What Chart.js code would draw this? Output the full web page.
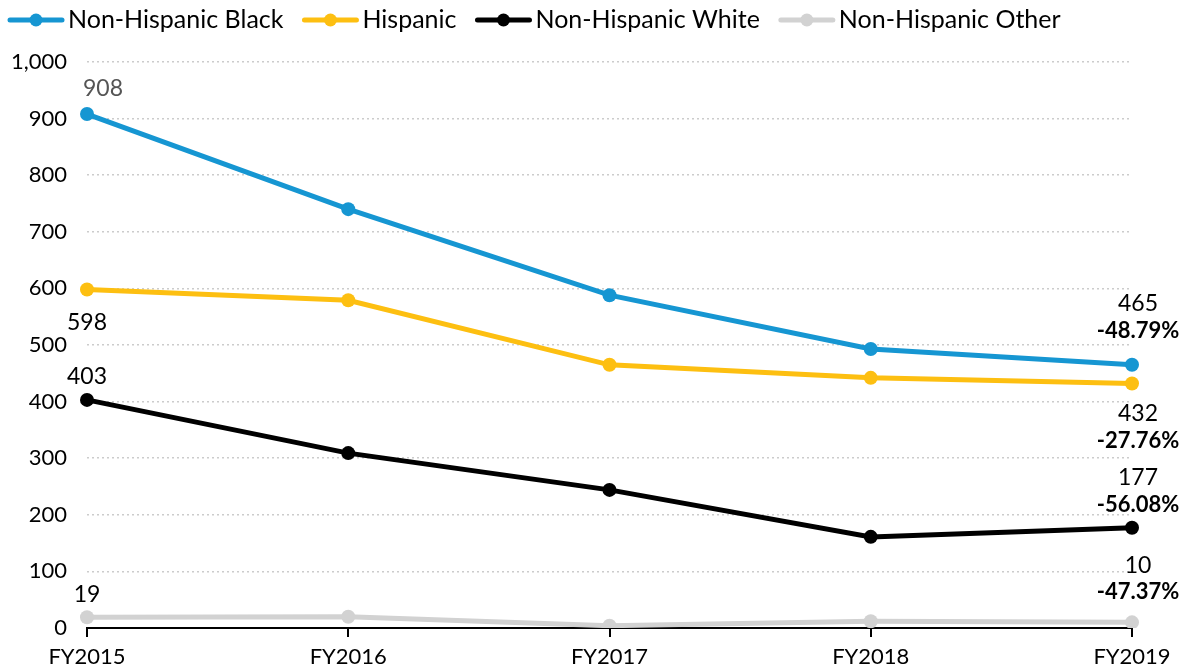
<!DOCTYPE html>
<html>
<head>
<meta charset="utf-8">
<script src="https://cdn.jsdelivr.net/npm/chart.js@4.4.1/dist/chart.umd.min.js"></script>
<style>
  html, body { margin: 0; padding: 0; background: #fff; }
  #wrap { width: 1188px; height: 672px; position: relative; }
</style>
</head>
<body>
<div id="wrap"><canvas id="chart"></canvas></div>
<script>
const years = ['FY2015', 'FY2016', 'FY2017', 'FY2018', 'FY2019'];
const nhBlack = [908, 740, 588, 493, 465];
const hispanic = [598, 579, 465, 442, 432];
const nhWhite = [403, 309, 244, 161, 177];
const nhOther = [19, 20, 4, 12, 10];
const yTicks = [0, 100, 200, 300, 400, 500, 600, 700, 800, 900, 1000];

const FONT = 'Lato, "Noto Sans", sans-serif';

// first/last point label placement, relative to the point
const endLabels = [
    { first: { dx: 16, dy: -25, color: '#555' }, last: { dx: 6, dy: -61, pctDy: -34 } },
    { first: { dx: 0, dy: 33, color: '#000' }, last: { dx: 6, dy: 30, pctDy: 57 } },
    { first: { dx: 0, dy: -23, color: '#000' }, last: { dx: 6, dy: -50, pctDy: -23 } },
    { first: { dx: 0, dy: -23, color: '#000' }, last: { dx: 6, dy: -57, pctDy: -30 } },
];

const series = [
    { label: 'Non-Hispanic Black', data: nhBlack, color: '#1696d2' },
    { label: 'Hispanic', data: hispanic, color: '#fdbf11' },
    { label: 'Non-Hispanic White', data: nhWhite, color: '#000000' },
    { label: 'Non-Hispanic Other', data: nhOther, color: '#d2d2d2' },
];

const legendLine = {
    id: 'legendLine',
    afterDraw(chart) {
        const ctx = chart.ctx;
        ctx.save();
        ctx.font = '25px ' + FONT;
        ctx.textBaseline = 'middle';
        let x = 8;
        const y = 20;
        series.forEach((s) => {
            ctx.strokeStyle = s.color;
            ctx.lineWidth = 5;
            ctx.lineCap = 'round';
            ctx.beginPath();
            ctx.moveTo(x + 2, y);
            ctx.lineTo(x + 54, y);
            ctx.stroke();
            ctx.fillStyle = s.color;
            ctx.beginPath();
            ctx.arc(x + 28, y, 6.5, 0, Math.PI * 2);
            ctx.fill();
            ctx.fillStyle = '#000';
            ctx.textAlign = 'left';
            ctx.fillText(s.label, x + 60, y);
            x += 60 + ctx.measureText(s.label).width + 19;
        });
        ctx.restore();
    },
};

const pointLabels = {
    id: 'pointLabels',
    afterDatasetsDraw(chart) {
        const ctx = chart.ctx;
        ctx.save();
        ctx.textAlign = 'center';
        ctx.textBaseline = 'middle';
        chart.data.datasets.forEach((ds, i) => {
            const pts = chart.getDatasetMeta(i).data;
            const cfg = endLabels[i];
            const first = ds.data[0];
            const last = ds.data[ds.data.length - 1];
            const p0 = pts[0];
            const p1 = pts[pts.length - 1];

            ctx.font = '23px ' + FONT;
            ctx.fillStyle = cfg.first.color;
            ctx.fillText(String(first), p0.x + cfg.first.dx, p0.y + cfg.first.dy);

            ctx.fillStyle = '#000';
            ctx.fillText(String(last), p1.x + cfg.last.dx, p1.y + cfg.last.dy);
            const pct = ((last - first) / first * 100).toFixed(2) + '%';
            ctx.font = 'bold 22px ' + FONT;
            ctx.fillText(pct, p1.x + cfg.last.dx, p1.y + cfg.last.pctDy);
        });
        ctx.restore();
    },
};

new Chart(document.getElementById('chart'), {
    type: 'line',
    data: {
        labels: years,
        datasets: series.map((s) => ({
            label: s.label,
            data: s.data,
            borderColor: s.color,
            backgroundColor: s.color,
            borderWidth: 5,
            pointRadius: 7,
            pointHoverRadius: 7,
            pointBorderWidth: 0,
            tension: 0,
        })),
    },
    options: {
        responsive: true,
        maintainAspectRatio: false,
        animation: false,
        layout: { padding: { top: 62, left: 10, right: 56, bottom: 0 } },
        plugins: {
            legend: { display: false },
            tooltip: { enabled: false },
        },
        scales: {
            x: {
                offset: false,
                grid: {
                    drawOnChartArea: false,
                    drawTicks: true,
                    tickLength: 9,
                    color: '#000',
                    lineWidth: 2,
                },
                border: { display: true, color: '#000', width: 2 },
                ticks: {
                    color: '#000',
                    font: { family: FONT, size: 22 },
                    padding: 7,
                    maxRotation: 0,
                },
                afterFit(scale) { scale.height = 44; },
            },
            y: {
                min: 0,
                max: 1000,
                afterBuildTicks(scale) { scale.ticks = yTicks.map((v) => ({ value: v })); },
                grid: {
                    color: '#cccccc',
                    lineWidth: 1.5,
                    drawTicks: false,
                },
                border: { display: false, dash: [2, 3] },
                ticks: {
                    color: '#000',
                    font: { family: FONT, size: 22 },
                    padding: 20,
                    callback: (v) => v.toLocaleString('en-US'),
                },
                afterFit(scale) { scale.width = 77; },
            },
        },
    },
    plugins: [legendLine, pointLabels],
});
</script>
</body>
</html>
